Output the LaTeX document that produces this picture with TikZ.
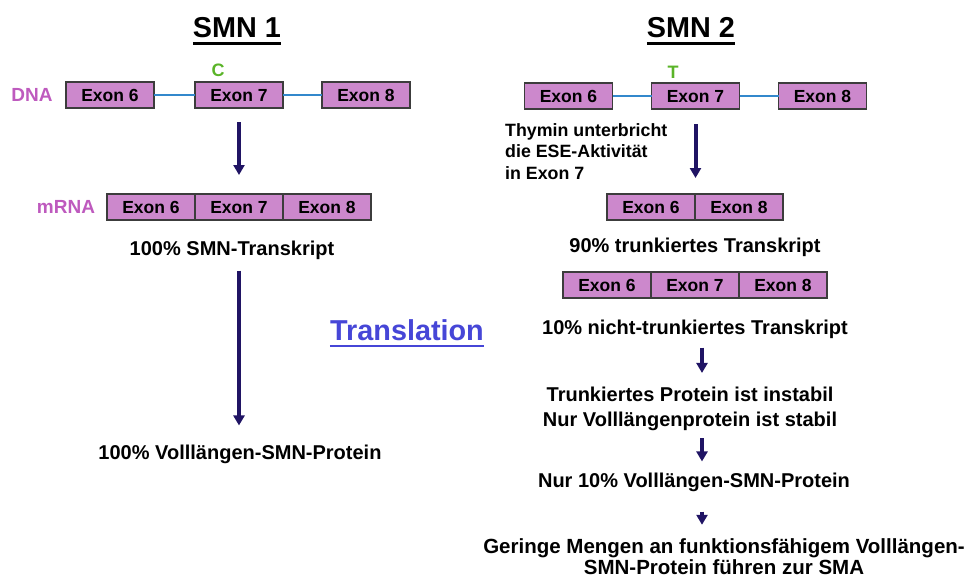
\documentclass[tikz,border=0pt]{standalone}
\usepackage{fontspec}
\setmainfont{Liberation Sans}
\usepackage{xcolor}
\definecolor{exonpink}{RGB}{204,136,204}
\definecolor{exonline}{RGB}{60,60,60}
\definecolor{intronblue}{RGB}{51,136,204}
\definecolor{arrownavy}{RGB}{32,20,100}
\definecolor{labelpurple}{RGB}{190,90,190}
\definecolor{basegreen}{RGB}{90,180,40}
\definecolor{transblue}{RGB}{70,70,215}
\usepackage{tikz}
\usetikzlibrary{arrows.meta, positioning}
\tikzset{
  exon/.style={
    rectangle, draw=exonline, fill=exonpink, line width=1.5pt,
    minimum width=88pt, minimum height=26pt, inner sep=0pt, outer sep=0pt,
    text height=12.5pt, text depth=0pt,
    text centered, font=\bfseries\fontsize{17.5}{20}\selectfont
  },
  intron/.style={draw=intronblue, line width=2pt},
  heading/.style={inner sep=0pt, font=\bfseries\fontsize{28.8}{32}\selectfont},
  note/.style={inner sep=0pt, align=center, font=\bfseries\fontsize{20}{25}\selectfont},
  remark/.style={inner sep=0pt, align=left, font=\bfseries\fontsize{17.8}{21.5}\selectfont},
  strand/.style={inner sep=0pt, text=labelpurple, font=\bfseries\fontsize{19}{22}\selectfont},
  nucleotide/.style={inner sep=0pt, text=basegreen, font=\bfseries\fontsize{18}{20}\selectfont},
  uline/.style={line width=2.5pt},
  arrow/.style={line width=4pt, draw=arrownavy, -{Triangle[width=11pt,length=10pt]}},
}

\begin{document}
\begin{tikzpicture}[x=1pt, y=-1pt, node distance=39pt]
  \useasboundingbox (0,0) rectangle (970,581);

  \node (smnI)  [heading] at (237,28) {SMN 1};
  \node (smnII) [heading] at (691,28) {SMN 2};
  \draw [uline] ([yshift=-5pt]smnI.south west)  -- ([yshift=-5pt]smnI.south east);
  \draw [uline] ([yshift=-5pt]smnII.south west) -- ([yshift=-5pt]smnII.south east);

  % SMN 1
  \node (dnaLabel) [strand] at (32,95) {DNA};
  \node (dnaI6) [exon] at (110,95)            {Exon 6};
  \node (dnaI7) [exon, right=41pt of dnaI6]   {Exon 7};
  \node (dnaI8) [exon, right=of dnaI7]        {Exon 8};
  \node (baseC) [nucleotide] at (218,70)      {C};
  \draw [intron] (dnaI6) -- (dnaI7);
  \draw [intron] (dnaI7) -- (dnaI8);

  \node (mrnaLabel) [strand] at (66,207) {mRNA};
  \node (mrnaI6) [exon] at (151,207)          {Exon 6};
  \node (mrnaI7) [exon, right=0pt of mrnaI6]  {Exon 7};
  \node (mrnaI8) [exon, right=0pt of mrnaI7]  {Exon 8};
  \node (tsI)   [note] at (232,250) {100\% SMN-Transkript};
  \node (protI) [note] at (240,454) {100\% Volllängen-SMN-Protein};

  \draw [arrow, shorten <=14pt, shorten >=19pt] (dnaI7) -- (mrnaI7);
  \draw [arrow, shorten <=11pt, shorten >=19pt] (tsI.south -| mrnaI7) -- (protI.north -| mrnaI7);

  \node (translation) [heading, text=transblue] at (407,330) {Translation};
  \draw [uline, draw=transblue] ([yshift=-5pt]translation.south west) -- ([yshift=-5pt]translation.south east);

  % SMN 2
  \node (dnaII6) [exon] at (568.5,96)        {Exon 6};
  \node (dnaII7) [exon, right=of dnaII6]     {Exon 7};
  \node (dnaII8) [exon, right=of dnaII7]     {Exon 8};
  \node (baseT)  [nucleotide] at (673,72)    {T};
  \draw [intron] (dnaII6) -- (dnaII7);
  \draw [intron] (dnaII7) -- (dnaII8);
  \node (thymin) [remark, anchor=north west] at (505,123) {Thymin unterbricht\\die ESE-Aktivität\\in Exon 7};

  \node (truncII6) [exon] at (651,207)          {Exon 6};
  \node (truncII8) [exon, right=0pt of truncII6] {Exon 8};
  \node (tsTrunc)  [note] at (695,247) {90\% trunkiertes Transkript};

  \node (fullII6) [exon] at (607,285)          {Exon 6};
  \node (fullII7) [exon, right=0pt of fullII6] {Exon 7};
  \node (fullII8) [exon, right=0pt of fullII7] {Exon 8};
  \node (tsFull)  [note] at (695,329) {10\% nicht-trunkiertes Transkript};

  \node (stability)   [note] at (690,409) {Trunkiertes Protein ist instabil\\Nur Volllängenprotein ist stabil};
  \node (protII)      [note] at (694,482) {Nur 10\% Volllängen-SMN-Protein};
  \node (consequence) [note, font=\bfseries\fontsize{20.5}{21}\selectfont] at (724,557)
    {Geringe Mengen an funktionsfähigem Volllängen-\\SMN-Protein führen zur SMA};
  \coordinate (spine) at (702,0);

  \draw [arrow, shorten <=15pt, shorten >=16pt] (dnaII7.south) -- (dnaII7.south |- truncII6.north);
  \draw [arrow, shorten <=9pt,  shorten >=14pt] (tsFull.south -| spine)    -- (stability.north -| spine);
  \draw [arrow, shorten <=7pt,  shorten >=11pt] (stability.south -| spine) -- (protII.north -| spine);
  \draw [arrow, shorten <=20pt, shorten >=14pt] (protII.south -| spine)    -- (consequence.north -| spine);
\end{tikzpicture}
\end{document}
